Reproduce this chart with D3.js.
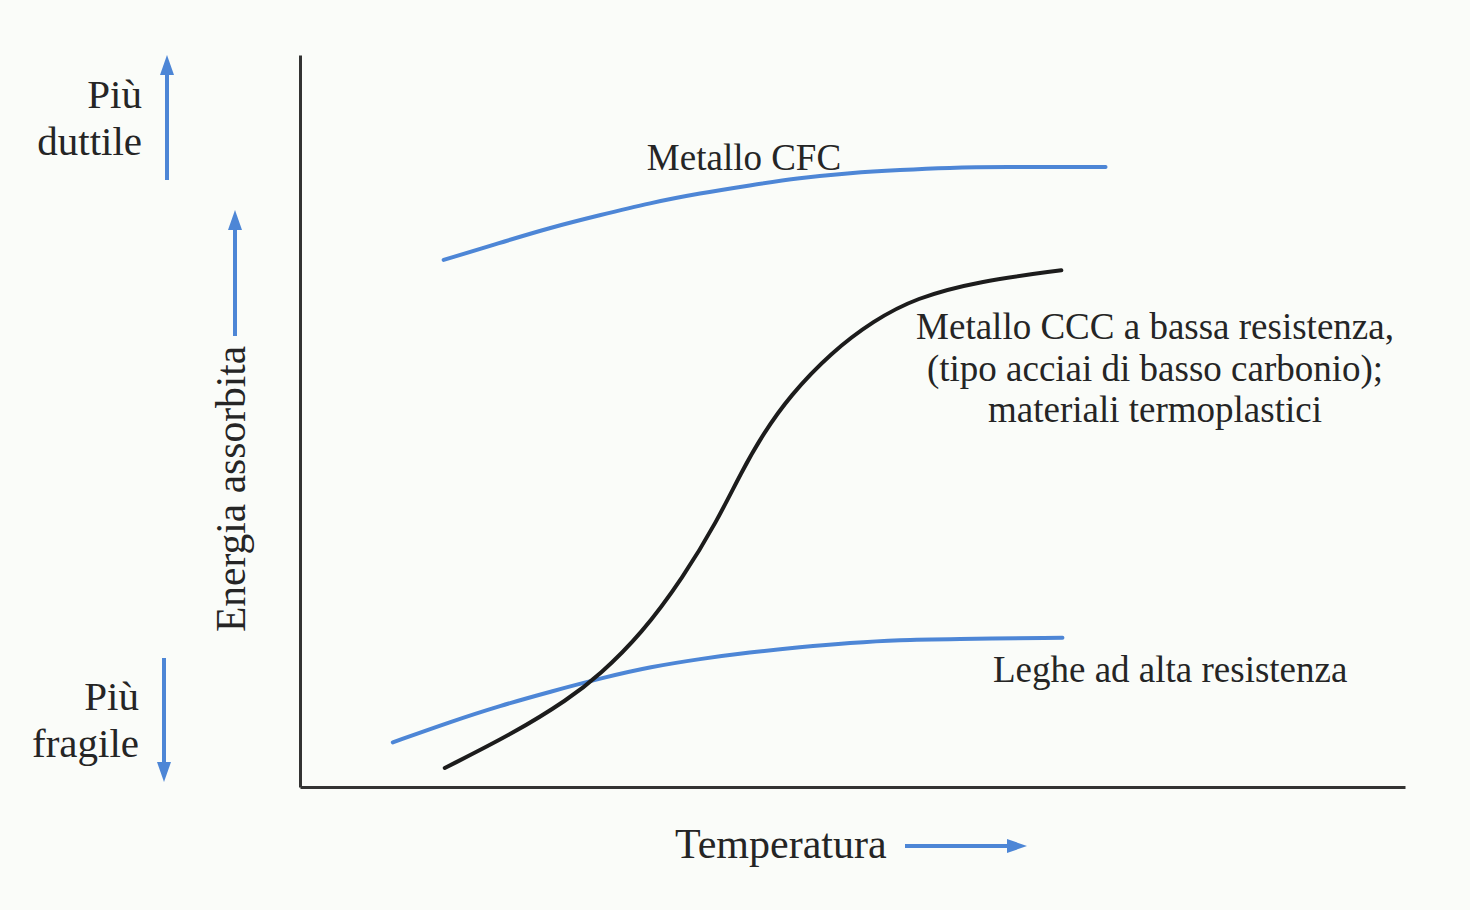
<!DOCTYPE html>
<html>
<head>
<meta charset="utf-8">
<script src="https://cdn.jsdelivr.net/npm/d3@7"></script>
<style>
  body { margin: 0; background: #fafcf9; }
  svg text { font-family: "Liberation Serif", "Times New Roman", serif; fill: #252525; }
</style>
</head>
<body>
<script>
// Curves (temperature and absorbed energy, arbitrary 0-100 units)
const cfcTemp = [13, 18, 22.6, 27.1, 31.7, 36.2, 40.7, 45.2, 49.8, 54.3, 58.8, 63.3, 72.9];
const cfcEnergy = [72.0, 74.3, 76.4, 78.1, 79.8, 81.1, 82.2, 83.2, 83.9, 84.3, 84.6, 84.7, 84.7];

const cccTemp = [13.1, 19.4, 24.3, 27.1, 30.9, 34.7, 37.7, 40.0, 41.9, 44.3, 48.1, 51.9, 55.7, 61.4, 68.9];
const cccEnergy = [2.6, 7.4, 12.0, 15.3, 20.9, 28.7, 36.2, 43.2, 48.2, 53.4, 59.4, 63.7, 66.8, 69.1, 70.6];

const leghTemp = [8.4, 13.6, 18.1, 22.6, 27.6, 31.7, 36.2, 40.7, 45.2, 49.8, 54.3, 58.8, 69.0];
const leghEnergy = [6.1, 8.9, 11.1, 13.0, 15.0, 16.4, 17.5, 18.4, 19.1, 19.7, 20.1, 20.2, 20.4];

const labelCFC = "Metallo CFC";
const labelCCC = ["Metallo CCC a bassa resistenza,", "(tipo acciai di basso carbonio);", "materiali termoplastici"];
const labelLeghe = "Leghe ad alta resistenza";
const xTitle = "Temperatura";
const yTitle = "Energia assorbita";
const topLabel = ["Più", "duttile"];
const bottomLabel = ["Più", "fragile"];

const width = 1470, height = 910;
const blue = "#4d86d6";

const svg = d3.select("body").append("svg")
  .attr("width", width)
  .attr("height", height);

const x = d3.scaleLinear().domain([0, 100]).range([300, 1405]);
const y = d3.scaleLinear().domain([0, 100]).range([787, 55]);

// axes, no ticks
svg.append("g")
  .attr("transform", `translate(0,${y(0)})`)
  .call(d3.axisBottom(x).tickValues([]).tickSizeOuter(0))
  .select(".domain").attr("stroke", "#333").attr("stroke-width", 3);

svg.append("g")
  .attr("transform", `translate(${x(0)},0)`)
  .call(d3.axisLeft(y).tickValues([]).tickSizeOuter(0))
  .select(".domain").attr("stroke", "#333").attr("stroke-width", 3);

const line = d3.line()
  .x(d => x(d[0]))
  .y(d => y(d[1]))
  .curve(d3.curveBasis);

const series = [
  { t: cfcTemp, e: cfcEnergy, color: blue },
  { t: leghTemp, e: leghEnergy, color: blue },
  { t: cccTemp, e: cccEnergy, color: "#1c1c1c" }
];

series.forEach(s => {
  svg.append("path")
    .datum(s.t.map((t, i) => [t, s.e[i]]))
    .attr("fill", "none")
    .attr("stroke", s.color)
    .attr("stroke-width", 4)
    .attr("stroke-linecap", "round")
    .attr("d", line);
});

// curve labels
svg.append("text")
  .attr("x", 744).attr("y", 170)
  .attr("text-anchor", "middle")
  .style("font-size", "37px")
  .text(labelCFC);

svg.selectAll(".ccc")
  .data(labelCCC)
  .enter().append("text")
  .attr("x", 1155)
  .attr("y", (d, i) => 339 + i * 41.5)
  .attr("text-anchor", "middle")
  .style("font-size", "37px")
  .text(d => d);

svg.append("text")
  .attr("x", 993).attr("y", 682)
  .style("font-size", "37px")
  .text(labelLeghe);

// arrows helper
function arrow(x1, y1, x2, y2) {
  const ang = Math.atan2(y2 - y1, x2 - x1);
  const len = 20, half = 7;
  const bx = x2 - len * Math.cos(ang), by = y2 - len * Math.sin(ang);
  svg.append("line")
    .attr("x1", x1).attr("y1", y1).attr("x2", bx).attr("y2", by)
    .attr("stroke", blue).attr("stroke-width", 4);
  svg.append("path")
    .attr("d", `M${x2},${y2}L${bx + half * Math.sin(ang)},${by - half * Math.cos(ang)}L${bx - half * Math.sin(ang)},${by + half * Math.cos(ang)}Z`)
    .attr("fill", blue);
}

// x title
svg.append("text")
  .attr("x", 675).attr("y", 858)
  .style("font-size", "42px")
  .text(xTitle);
arrow(905, 846, 1027, 846);

// y title
svg.append("text")
  .attr("transform", "translate(245,632) rotate(-90)")
  .style("font-size", "41.5px")
  .text(yTitle);
arrow(235, 336, 235, 210);

// side labels
svg.selectAll(".top")
  .data(topLabel)
  .enter().append("text")
  .attr("x", 142)
  .attr("y", (d, i) => 108 + i * 47)
  .attr("text-anchor", "end")
  .style("font-size", "41px")
  .text(d => d);
arrow(167, 180, 167, 55);

svg.selectAll(".bottom")
  .data(bottomLabel)
  .enter().append("text")
  .attr("x", 139)
  .attr("y", (d, i) => 710 + i * 47)
  .attr("text-anchor", "end")
  .style("font-size", "41px")
  .text(d => d);
arrow(164, 658, 164, 782);
</script>
</body>
</html>
